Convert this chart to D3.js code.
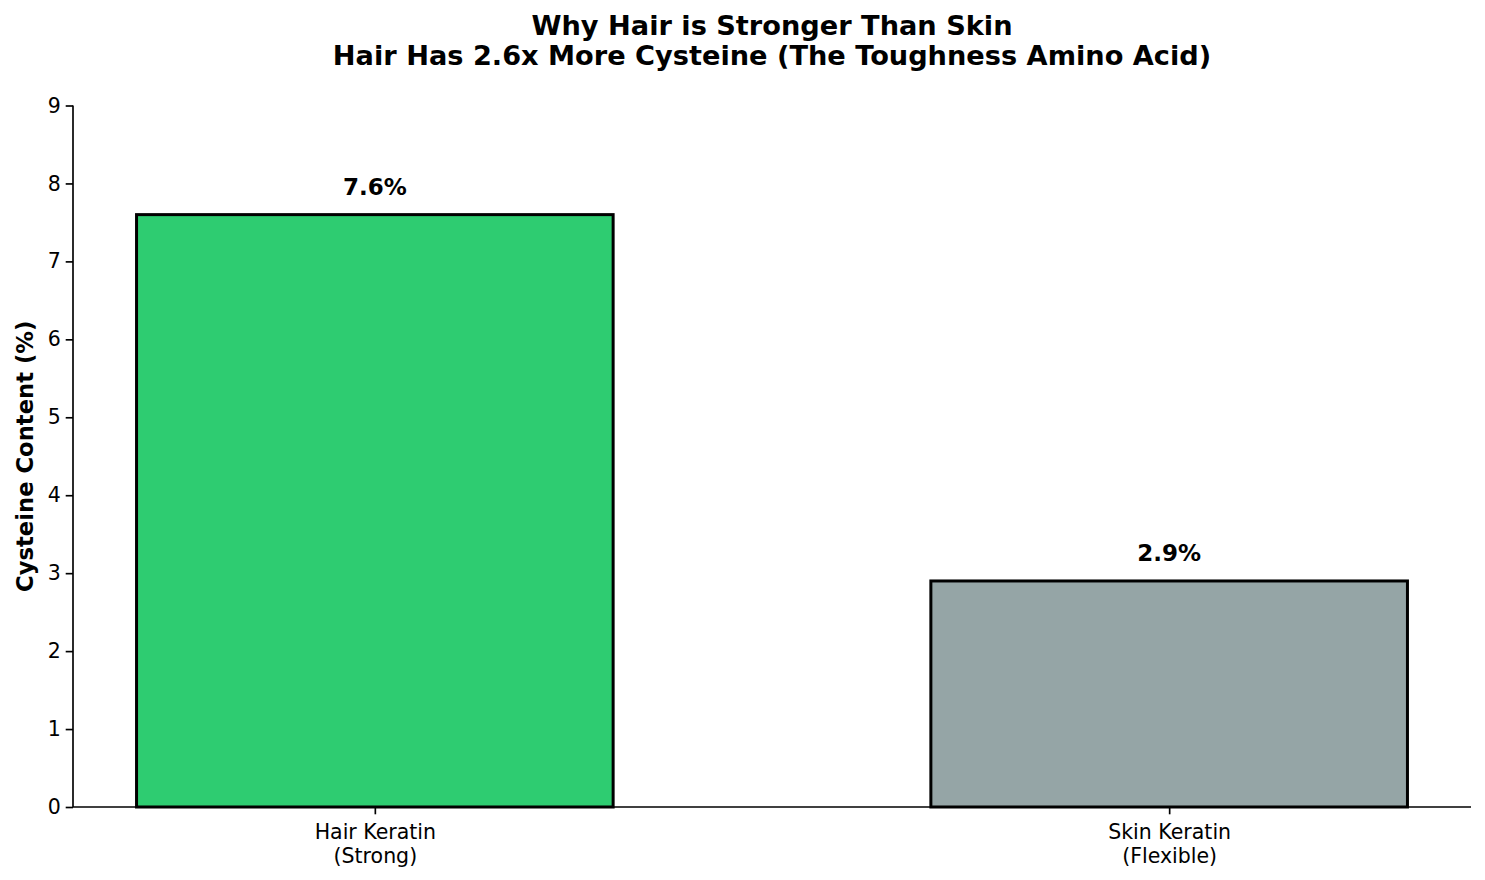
<!DOCTYPE html>
<html>
<head>
<meta charset="utf-8">
<script src="https://cdn.jsdelivr.net/npm/d3@7"></script>
<style>
  html, body { margin: 0; padding: 0; background: #fff; }
  svg { display: block; font-family: "DejaVu Sans", sans-serif; }
</style>
</head>
<body>
<svg id="chart" width="1485" height="880"></svg>
<script>
const categories = ["Hair Keratin\n(Strong)", "Skin Keratin\n(Flexible)"];
const values = [7.6, 2.9];
const colors = ["#2ecc71", "#95a5a6"];
const yTicks = [0, 1, 2, 3, 4, 5, 6, 7, 8, 9];
const titleLines = ["Why Hair is Stronger Than Skin", "Hair Has 2.6x More Cysteine (The Toughness Amino Acid)"];
const yLabel = "Cysteine Content (%)";

const W = 1485, H = 880;
const m = { left: 73, right: 14, top: 105.5, bottom: 73 };
const svg = d3.select("#chart");

const barWidth = 0.6;
const x = d3.scaleLinear()
  .domain([-barWidth / 2 - 0.08, categories.length - 1 + barWidth / 2 + 0.08])
  .range([m.left, W - m.right]);
const y = d3.scaleLinear().domain([0, 9]).range([H - m.bottom, m.top]);

// Bars
svg.append("g").selectAll("rect")
  .data(values)
  .join("rect")
  .attr("x", (d, i) => x(i - barWidth / 2))
  .attr("width", (d, i) => x(i + barWidth / 2) - x(i - barWidth / 2))
  .attr("y", d => y(d))
  .attr("height", d => y(0) - y(d))
  .attr("fill", (d, i) => colors[i])
  .attr("stroke", "#000")
  .attr("stroke-width", 3);

// Value labels
svg.append("g").selectAll("text")
  .data(values)
  .join("text")
  .attr("x", (d, i) => x(i))
  .attr("y", d => y(d) - 19.5)
  .attr("text-anchor", "middle")
  .attr("font-size", 23)
  .attr("font-weight", "bold")
  .attr("fill", "#000")
  .text(d => d.toFixed(1) + "%");

// Y axis
const yAxis = d3.axisLeft(y).tickValues(yTicks).tickFormat(d3.format("d")).tickSize(7.3).tickPadding(5);
const gy = svg.append("g").attr("transform", `translate(${m.left},0)`).call(yAxis);
gy.select(".domain").attr("stroke", "#000").attr("stroke-width", 1.67).attr("d", `M0,${y(0)}V${y(9)}`);
gy.selectAll(".tick line").attr("stroke", "#000").attr("stroke-width", 1.67);
gy.selectAll(".tick text").attr("font-size", 20.5).attr("font-family", "DejaVu Sans").attr("fill", "#000");

// X axis
const xAxis = d3.axisBottom(x).tickValues(categories.map((c, i) => i)).tickFormat("").tickSize(7.3);
const gx = svg.append("g").attr("transform", `translate(0,${y(0)})`).call(xAxis);
gx.select(".domain").attr("stroke", "#000").attr("stroke-width", 1.67).attr("d", `M${m.left},0H${W - m.right}`);
gx.selectAll(".tick line").attr("stroke", "#000").attr("stroke-width", 1.67);
gx.selectAll(".tick").each(function (d) {
  const lines = categories[d].split("\n");
  const t = d3.select(this).append("text")
    .attr("text-anchor", "middle")
    .attr("font-size", 20.5)
    .attr("font-family", "DejaVu Sans")
    .attr("fill", "#000");
  lines.forEach((ln, k) => {
    t.append("tspan").attr("x", 0).attr("y", 32 + k * 23.5).text(ln);
  });
});

// Y label
svg.append("text")
  .attr("transform", `translate(33,${(y(0) + y(9)) / 2}) rotate(-90)`)
  .attr("text-anchor", "middle")
  .attr("font-size", 22.7)
  .attr("font-weight", "bold")
  .attr("fill", "#000")
  .text(yLabel);

// Title
svg.append("g").selectAll("text")
  .data(titleLines)
  .join("text")
  .attr("x", (m.left + W - m.right) / 2)
  .attr("y", (d, i) => 35 + i * 30)
  .attr("text-anchor", "middle")
  .attr("font-size", 27.2)
  .attr("font-weight", "bold")
  .attr("fill", "#000")
  .text(d => d);
</script>
</body>
</html>
